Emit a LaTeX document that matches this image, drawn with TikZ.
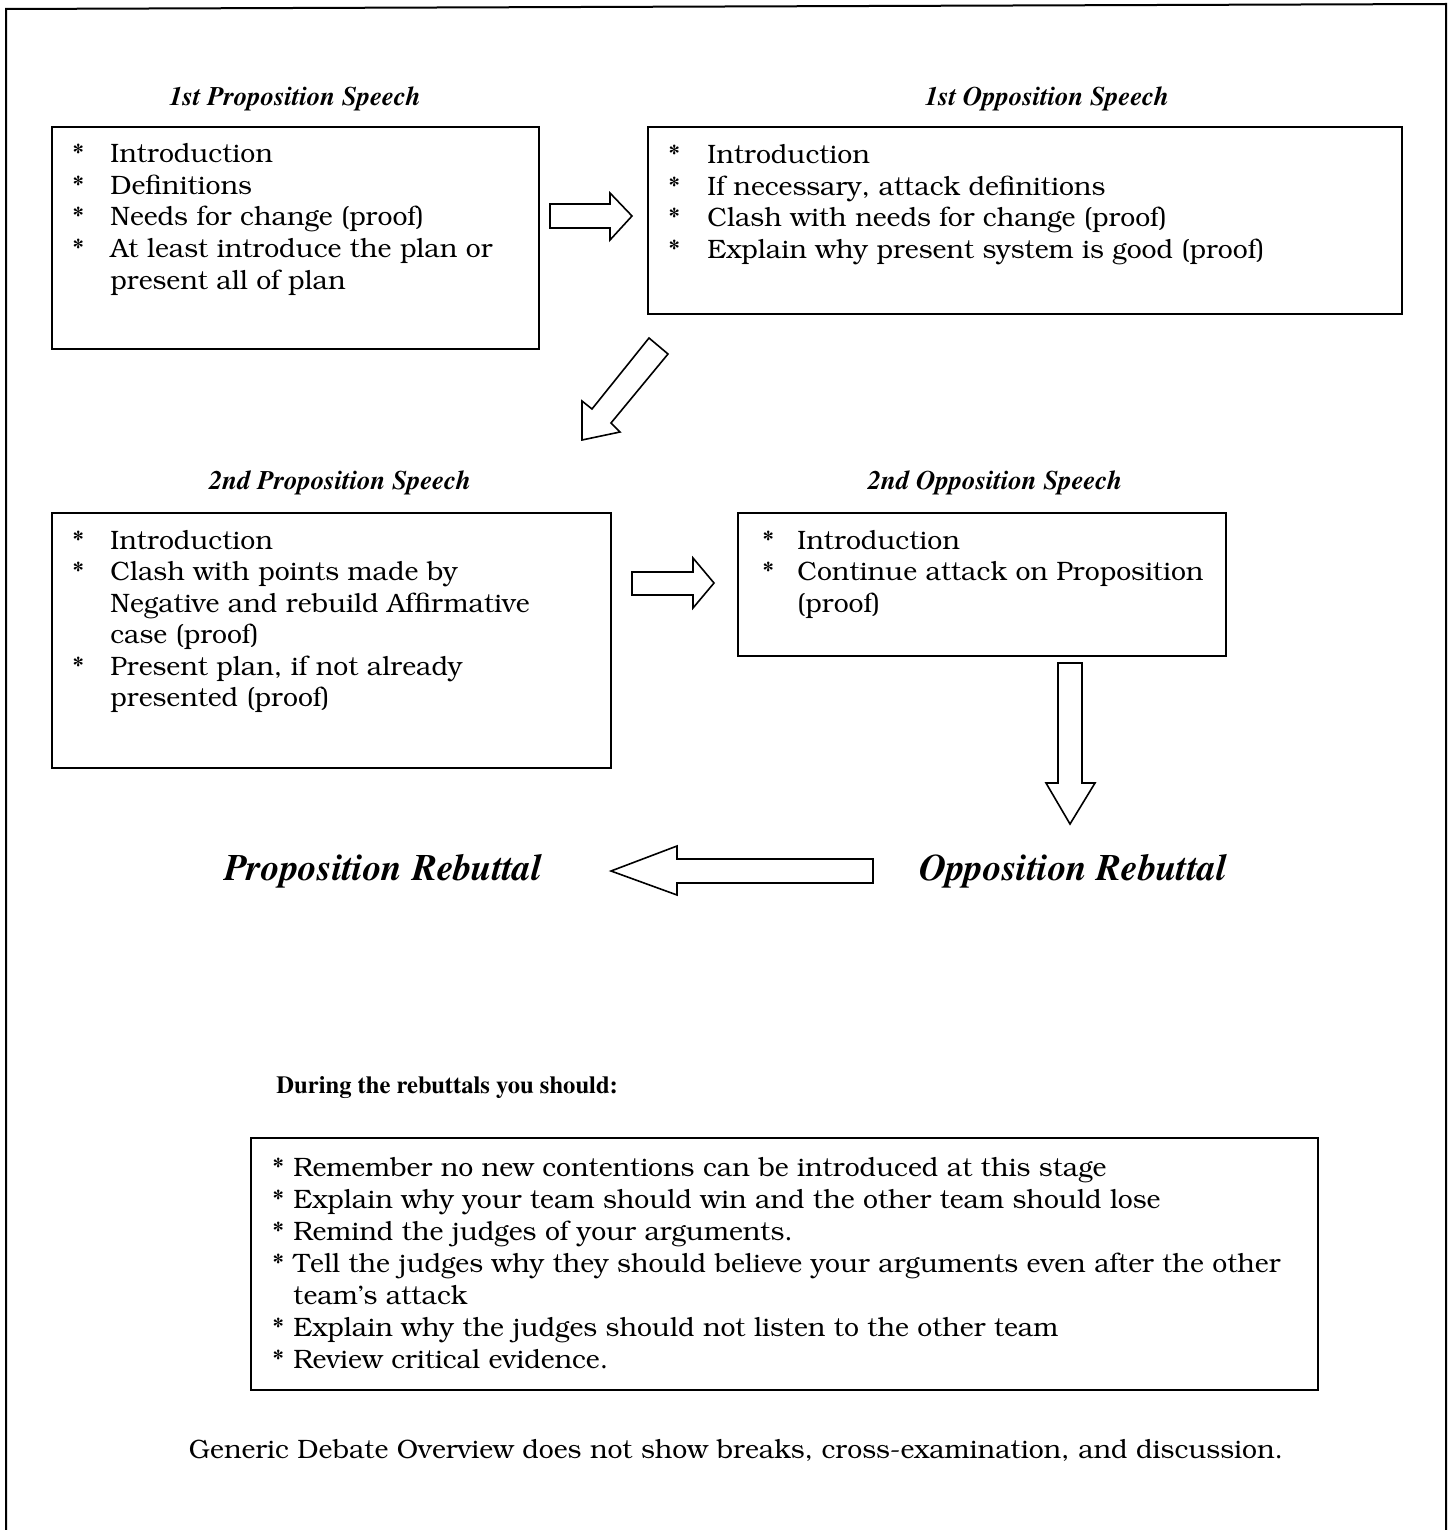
\documentclass[tikz,border=0pt]{standalone}
\usepackage[T1]{fontenc}
\usetikzlibrary{fit}
\newcommand\bkbody{\fontfamily{pbk}\fontseries{m}\fontshape{n}\fontsize{13.3}{15.75}\selectfont}
\newcommand\bklist{\fontfamily{pbk}\fontseries{m}\fontshape{n}\fontsize{13.3}{16}\selectfont}
\newcommand\tmhead{\fontfamily{ptm}\fontseries{b}\fontshape{it}\fontsize{13.4}{15}\selectfont}
\newcommand\tmbig{\fontfamily{ptm}\fontseries{b}\fontshape{it}\fontsize{18.7}{22}\selectfont}
\newcommand\tmbold{\fontfamily{ptm}\fontseries{b}\fontshape{n}\fontsize{12.3}{14}\selectfont}
\newcommand\bul{*}
\tikzset{
  box/.style={draw=black, line width=1pt, inner sep=0pt},
  blk/.style={draw=black, line width=0.8pt, fill=white, line join=miter},
  lst/.style={inner sep=0pt, anchor=base west, font=\bkbody},
  head/.style={inner sep=0pt, anchor=base, font=\tmhead},
  big/.style={inner sep=0pt, anchor=base, font=\tmbig},
}
\begin{document}
\begin{tikzpicture}[x=0.5pt,y=-0.5pt]
\useasboundingbox (0,0) rectangle (1453,1530);
% outer frame
\draw[line width=1pt] (6,1540) -- (6,9) -- (1446,4) -- (1446,1540);

% boxes
\node[box, fit={(52,127) (539,349)}] (b1) {};
\node[box, fit={(648,127) (1402,314)}] (b2) {};
\node[box, fit={(52,513) (611,768)}] (b3) {};
\node[box, fit={(738,513) (1226,656)}] (b4) {};
\node[box, fit={(251,1138) (1318,1390)}] (b5) {};

% headings
\node[head] (h1) at (295,106) {1st Proposition Speech};
\node[head] (h2) at (1047,106) {1st Opposition Speech};
\node[head] (h3) at (340,489) {2nd Proposition Speech};
\node[head] (h4) at (995,489) {2nd Opposition Speech};

% box texts
\node[lst] (t1) at (72,163) {\begin{tabular}[t]{@{}p{19pt}@{}l@{}}
\bul& Introduction\\
\bul& Definitions\\
\bul& Needs for change (proof)\\
\bul& At least introduce the plan or\\
 & present all of plan
\end{tabular}};
\node[lst] (t2) at (668,164) {\begin{tabular}[t]{@{}p{19.5pt}@{}l@{}}
\bul& Introduction\\
\bul& If necessary, attack definitions\\
\bul& Clash with needs for change (proof)\\
\bul& Explain why present system is good (proof)
\end{tabular}};
\node[lst] (t3) at (72,549) {\begin{tabular}[t]{@{}p{19pt}@{}l@{}}
\bul& Introduction\\
\bul& Clash with points made by\\
 & Negative and rebuild Affirmative\\
 & case (proof)\\
\bul& Present plan, if not already\\
 & presented (proof)
\end{tabular}};
\node[lst] (t4) at (762,549) {\begin{tabular}[t]{@{}p{17.5pt}@{}l@{}}
\bul& Introduction\\
\bul& Continue attack on Proposition\\
 & (proof)
\end{tabular}};
\node[lst, font=\bklist] (t5) at (272,1176) {\begin{tabular}[t]{@{}p{10.5pt}@{}l@{}}
\bul& Remember no new contentions can be introduced at this stage\\
\bul& Explain why your team should win and the other team should lose\\
\bul& Remind the judges of your arguments.\\
\bul& Tell the judges why they should believe your arguments even after the other\\
 & team's attack\\
\bul& Explain why the judges should not listen to the other team\\
\bul& Review critical evidence.
\end{tabular}};

% block arrows
\draw[blk] (550,204) -- (610,204) -- (610,193) -- (632,216) -- (610,240) -- (610,228) -- (550,228) -- cycle;
\draw[blk] (649,338) -- (668,354) -- (611,423) -- (620,432) -- (582,440) -- (582,401) -- (592,409) -- cycle;
\draw[blk] (632,572) -- (693,572) -- (693,558) -- (714,583) -- (693,608) -- (693,595) -- (632,595) -- cycle;
\draw[blk] (1058,663) -- (1082,663) -- (1082,783) -- (1095,783) -- (1070,824) -- (1046,783) -- (1058,783) -- cycle;
\draw[blk] (873,859) -- (677,859) -- (677,846) -- (611,871) -- (677,895) -- (677,883) -- (873,883) -- cycle;

% rebuttals
\node[big] (pr) at (383,880) {Proposition Rebuttal};
\node[big] (orb) at (1073,880) {Opposition Rebuttal};

\node[inner sep=0pt, anchor=base west, font=\tmbold] (dr) at (276,1093) {During the rebuttals you should:};
\node[inner sep=0pt, anchor=base, font=\bkbody] (gen) at (736,1458) {Generic Debate Overview does not show breaks, cross-examination, and discussion.};
\end{tikzpicture}
\end{document}
